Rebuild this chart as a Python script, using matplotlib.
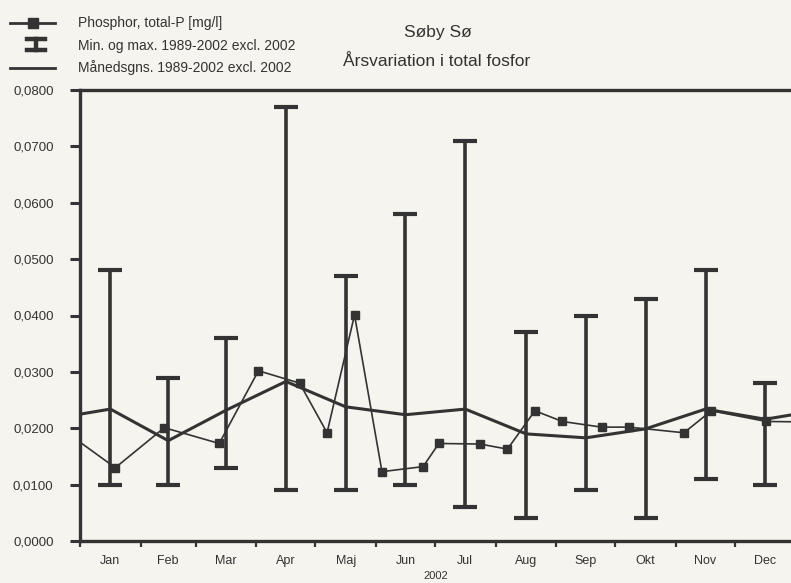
import matplotlib
matplotlib.use("Agg")
import matplotlib.pyplot as plt
import matplotlib.dates as mdates
from matplotlib.lines import Line2D
from matplotlib.ticker import FuncFormatter, FixedLocator
import numpy as np
import pandas as pd

plt.rcParams['font.family'] = ['Liberation Sans', 'DejaVu Sans']

# ---------------- data ----------------
months = ['Jan', 'Feb', 'Mar', 'Apr', 'Maj', 'Jun', 'Jul', 'Aug', 'Sep', 'Okt', 'Nov', 'Dec']
year = 2002

# Min / max 1989-2002 excl. 2002 (per month)
month_min = [0.010, 0.010, 0.013, 0.009, 0.009, 0.010, 0.006, 0.004, 0.009, 0.004, 0.011, 0.010]
month_max = [0.048, 0.029, 0.036, 0.077, 0.047, 0.058, 0.071, 0.037, 0.040, 0.043, 0.048, 0.028]
# Monthly mean 1989-2002 excl. 2002
month_mean = [0.0234, 0.0178, 0.0232, 0.0283, 0.0238, 0.0224, 0.0234, 0.0190, 0.0183, 0.0199, 0.0234, 0.0216]

# Phosphor, total-P samples 2002 (with neighbouring samples outside the year)
sample_dates = ['2001-12-17', '2002-01-19', '2002-02-13', '2002-03-13', '2002-04-02', '2002-04-23',
                '2002-05-07', '2002-05-21', '2002-06-04', '2002-06-25', '2002-07-03', '2002-07-24',
                '2002-08-07', '2002-08-21', '2002-09-04', '2002-09-24', '2002-10-08', '2002-11-05',
                '2002-11-19', '2002-12-17', '2003-01-13']
sample_tp = [0.0213, 0.0130, 0.0201, 0.0173, 0.0302, 0.0280,
             0.0192, 0.0401, 0.0123, 0.0132, 0.0173, 0.0172,
             0.0163, 0.0231, 0.0212, 0.0202, 0.0202, 0.0192,
             0.0231, 0.0212, 0.0211]

legend_labels = ['Phosphor, total-P [mg/l]',
                 'Min. og max. 1989-2002 excl. 2002',
                 'Månedsgns. 1989-2002 excl. 2002']
title1 = 'Søby Sø'
title2 = 'Årsvariation i total fosfor'
xlabel = '2002'

# ---------------- style ----------------
W, H = 791, 583
bg = '#f5f4ee'
ink = '#333333'

fig = plt.figure(figsize=(W / 100, H / 100), dpi=100, facecolor=bg)
ax = fig.add_axes([80 / W, 1 - 541 / H, 1 - 80 / W, (541 - 90) / H])
ax.set_facecolor(bg)

mstarts = pd.date_range(f'{year - 1}-12-01', f'{year + 1}-02-01', freq='MS')
mids = mstarts[:-1] + (mstarts[1:] - mstarts[:-1]) / 2   # Dec prev .. Jan next
mid_num = mdates.date2num(mids.to_pydatetime())
mid_year = mid_num[1:13]

# error bars (min/max)
ax.vlines(mid_year, month_min, month_max, color=ink, lw=2.6, zorder=2)
ax.plot(mid_year, month_min, ls='none', marker='_', ms=17, mew=3.0, color=ink, zorder=2)
ax.plot(mid_year, month_max, ls='none', marker='_', ms=17, mew=3.0, color=ink, zorder=2)

# mean line (wrapped from previous Dec to next Jan)
mean_wrap = [month_mean[-1]] + month_mean + [month_mean[0]]
ax.plot(mid_num, mean_wrap, color=ink, lw=2.2, zorder=3, solid_joinstyle='miter')

# samples
sx = mdates.date2num(pd.to_datetime(sample_dates).to_pydatetime())
ax.plot(sx, sample_tp, color=ink, lw=1.2, marker='s', ms=6.2, mfc=ink, mec=ink, zorder=4)

# axes limits
x0 = mdates.date2num(pd.Timestamp(f'{year}-01-01').to_pydatetime())
ax.set_xlim(x0, x0 + 362.6)
ax.set_ylim(0, 0.08)

# x ticks: month starts (major, no labels), mid months (minor, labelled)
month_starts = mdates.date2num(pd.date_range(f'{year}-01-01', periods=12, freq='MS').to_pydatetime())
ax.xaxis.set_major_locator(FixedLocator(month_starts))
ax.xaxis.set_major_formatter(FuncFormatter(lambda v, p: ''))
ax.set_xticks(mid_year, minor=True)
ax.set_xticklabels(months, minor=True)
ax.tick_params(axis='x', which='major', direction='out', length=4, width=1.6, color=ink)
ax.tick_params(axis='x', which='minor', length=0, pad=10, labelsize=9, labelcolor=ink)

ax.set_yticks(np.arange(0, 0.0801, 0.01))
ax.yaxis.set_major_formatter(FuncFormatter(lambda v, p: f'{v:.4f}'.replace('.', ',')))
ax.tick_params(axis='y', direction='out', length=7, width=2.2, color=ink, pad=12,
               labelsize=9.5, labelcolor=ink)

ax.set_xlabel(xlabel, fontsize=8, color=ink, labelpad=3)

for s in ['left', 'bottom', 'top']:
    ax.spines[s].set_linewidth(2.4)
    ax.spines[s].set_color(ink)
ax.spines['right'].set_visible(False)

# ---------------- titles ----------------
fig.text(438 / W, 1 - 32 / H, title1, ha='center', va='center', fontsize=12.5, color=ink)
fig.text(437 / W, 1 - 62 / H, title2, ha='center', va='center', fontsize=12.5, color=ink)

# ---------------- legend (drawn in figure pixels) ----------------
def fx(x):
    return x / W

def fy(y):
    return 1 - y / H

rows = [23, 46, 68]
tf = fig.transFigure
fig.add_artist(Line2D([fx(10), fx(55)], [fy(rows[0])] * 2, color=ink, lw=2.0, transform=tf))
fig.add_artist(Line2D([fx(32.5)], [fy(rows[0])], color=ink, marker='s', ms=7, transform=tf))
fig.add_artist(Line2D([fx(36), fx(36)], [fy(38.5), fy(49.5)], color=ink, lw=3.2, transform=tf))
fig.add_artist(Line2D([fx(27), fx(45)], [fy(38.5)] * 2, color=ink, lw=3.2, transform=tf))
fig.add_artist(Line2D([fx(27), fx(45)], [fy(49.5)] * 2, color=ink, lw=3.2, transform=tf))
fig.add_artist(Line2D([fx(10), fx(55)], [fy(rows[2])] * 2, color=ink, lw=2.0, transform=tf))
for r, lab in zip(rows, legend_labels):
    fig.text(fx(78), fy(r), lab, ha='left', va='center', fontsize=10, color=ink)

fig.savefig('out.png', dpi=100, facecolor=bg)
